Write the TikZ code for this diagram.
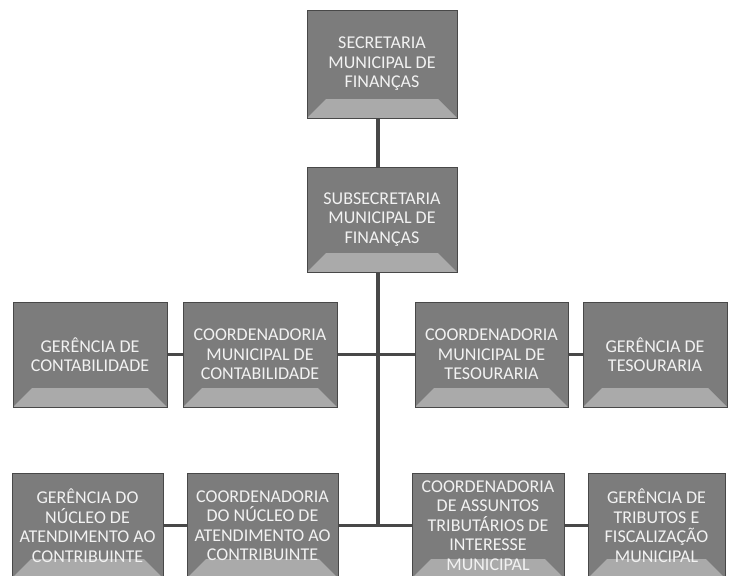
\documentclass[tikz,border=0pt]{standalone}
\usepackage{fontspec}
\setmainfont{Carlito}
\usepackage{tikz}
\usetikzlibrary{positioning}
\usepackage{xcolor}
\definecolor{boxgray}{RGB}{124,124,124}
\definecolor{bevelgray}{RGB}{170,170,170}
\definecolor{textgray}{RGB}{242,242,242}
\definecolor{linegray}{RGB}{72,72,72}

\begin{document}
\begin{tikzpicture}[x=1pt,y=-1pt,
  orgbox/.style={draw=linegray,line width=0.8pt,fill=boxgray,text=textgray,align=center,
    inner sep=0pt,minimum height=105pt,font=\fontsize{18}{19.5}\selectfont,
    path picture={\fill[bevelgray] (path picture bounding box.south west)
      -- ([xshift=19pt,yshift=19pt]path picture bounding box.south west)
      -- ([xshift=-19pt,yshift=19pt]path picture bounding box.south east)
      -- (path picture bounding box.south east) -- cycle;}},
  link/.style={draw=linegray,line width=3pt}]
\clip (0,0) rectangle (729,576);
\fill[white] (0,0) rectangle (729,576);
\node[orgbox,minimum width=150pt,minimum height=108pt] (sec) at (382,64) {SECRETARIA\\MUNICIPAL DE\\FINANÇAS};
\node[orgbox,minimum width=150pt] (sub) at (382,219.5) {SUBSECRETARIA\\MUNICIPAL DE\\FINANÇAS};
\node[orgbox,minimum width=154pt] (gc) at (90,354.5) {GERÊNCIA DE\\CONTABILIDADE};
\node[orgbox,minimum width=154pt] (cmc) at (260,354.5) {COORDENADORIA\\MUNICIPAL DE\\CONTABILIDADE};
\node[orgbox,minimum width=153pt] (cmt) at (491.5,354.5) {COORDENADORIA\\MUNICIPAL DE\\TESOURARIA};
\node[orgbox,minimum width=144pt] (gt) at (655,354.5) {GERÊNCIA DE\\TESOURARIA};
\node[orgbox,minimum width=151pt] (gna) at (87.5,525.5) {GERÊNCIA DO\\NÚCLEO DE\\ATENDIMENTO AO\\CONTRIBUINTE};
\node[orgbox,minimum width=151pt] (cna) at (262.5,525.5) {COORDENADORIA\\DO NÚCLEO DE\\ATENDIMENTO AO\\CONTRIBUINTE};
\node[orgbox,minimum width=152pt] (cat) at (488,525.5) {COORDENADORIA\\DE ASSUNTOS\\TRIBUTÁRIOS DE\\INTERESSE\\MUNICIPAL};
\node[orgbox,minimum width=137pt] (gtf) at (656.5,525.5) {GERÊNCIA DE\\TRIBUTOS E\\FISCALIZAÇÃO\\MUNICIPAL};
\coordinate (t2) at (378,354.5);
\coordinate (t3) at (378,525.5);
\draw[link,line width=4pt] (sec.south -| t2) -- (sub.north -| t2);
\draw[link,line width=3.5pt] (sub.south -| t2) -- (t3);
\draw[link] (gc) -- (cmc);
\draw[link] (cmc) -- (t2) -- (cmt);
\draw[link] (cmt) -- (gt);
\draw[link] (gna) -- (cna);
\draw[link] (cna) -- (t3) -- (cat);
\draw[link] (cat) -- (gtf);
\end{tikzpicture}
\end{document}
